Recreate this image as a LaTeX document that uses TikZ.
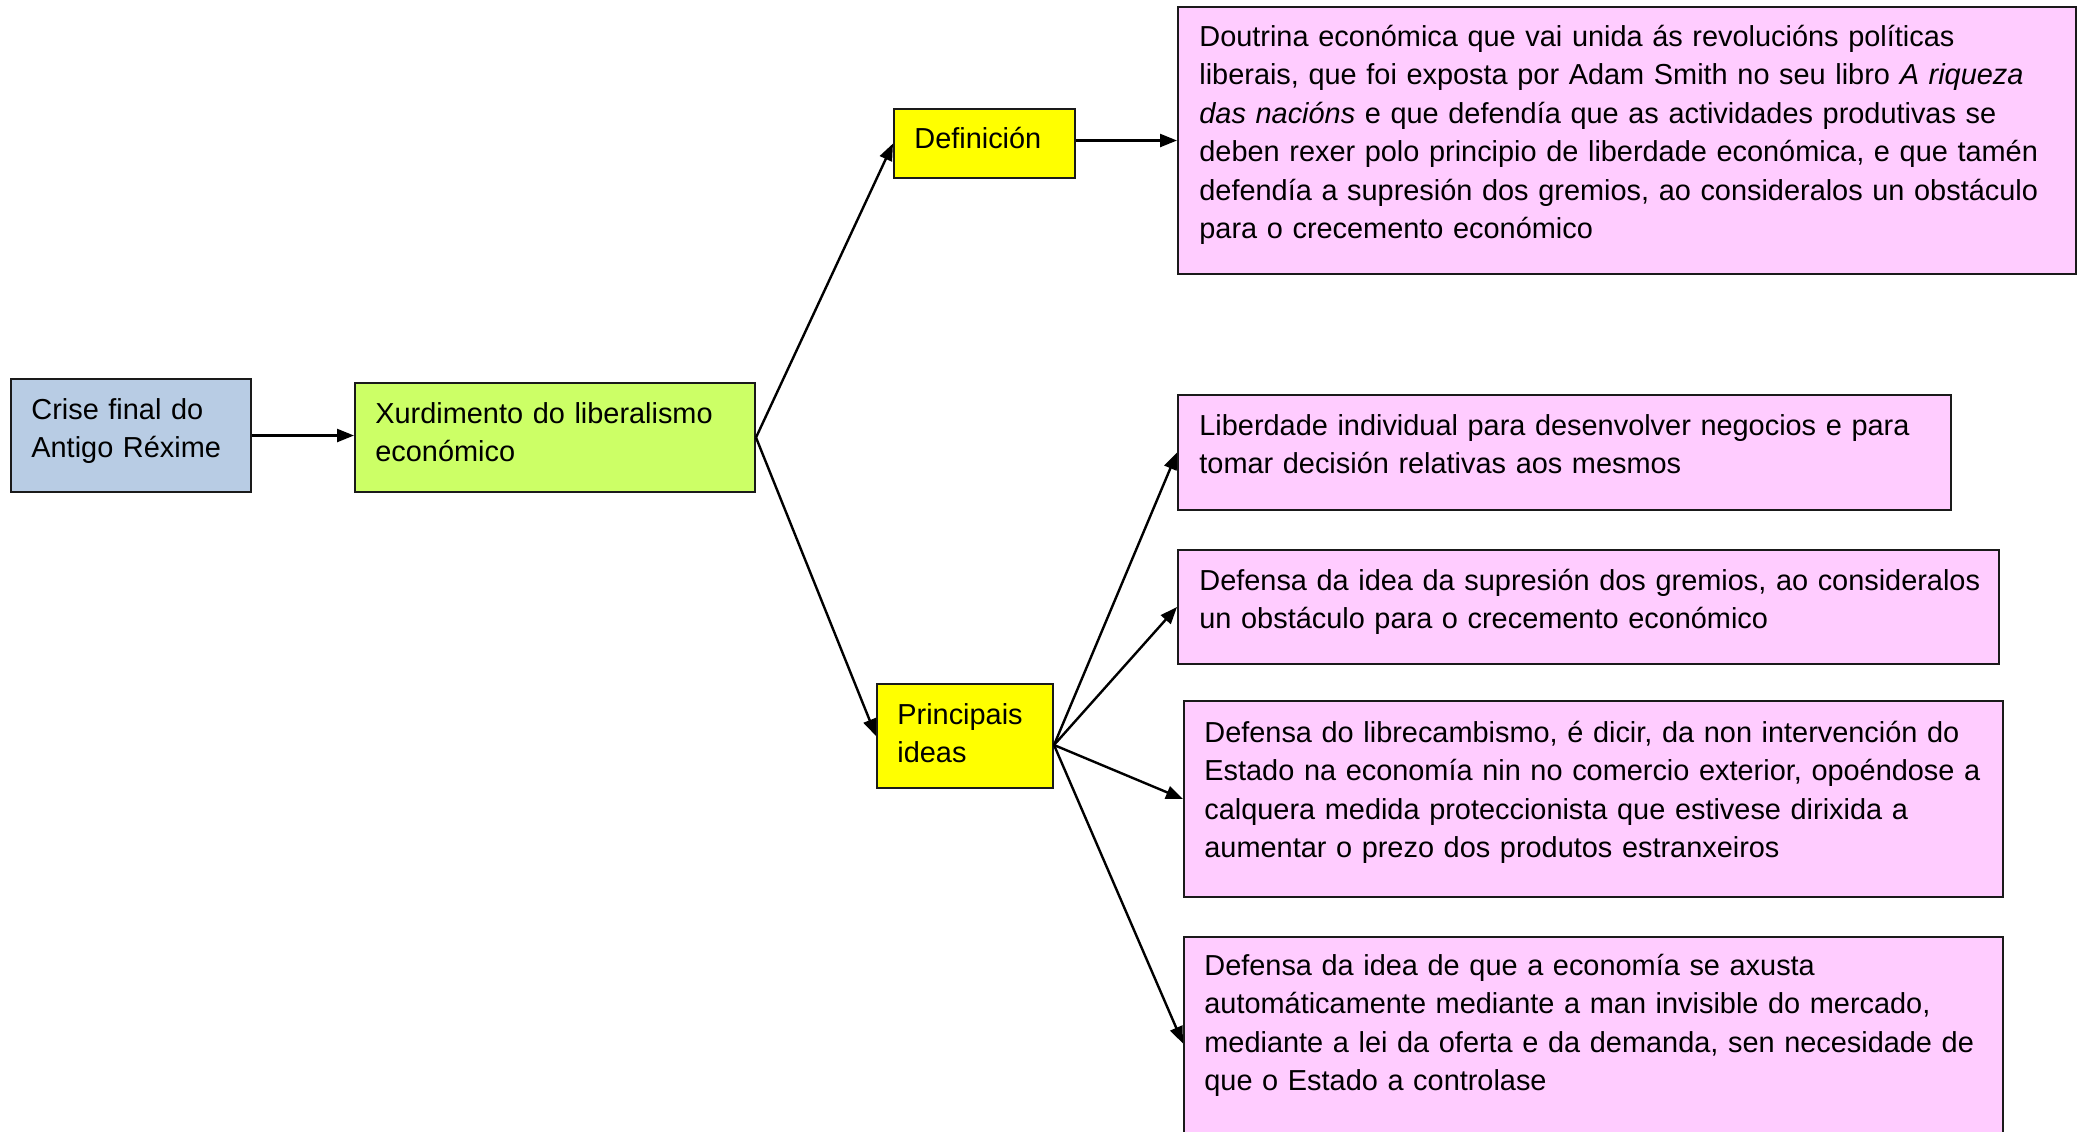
\documentclass[tikz,border=0pt]{standalone}
\usepackage{fontspec}
\setmainfont{Liberation Sans}
\usetikzlibrary{arrows.meta,fit}
\definecolor{cblue}{HTML}{B8CCE4}
\definecolor{cgreen}{HTML}{CCFF66}
\definecolor{cyellow}{HTML}{FFFF00}
\definecolor{cpink}{HTML}{FFCCFF}
\definecolor{cedge}{HTML}{1A1A1A}
\begin{document}
\begin{tikzpicture}[x=0.5pt,y=-0.5pt,
  box/.style={draw=cedge, line width=1pt, inner sep=0pt},
  txt/.style={anchor=base west, inner sep=0pt, text width=#1, align=left,
    font=\fontsize{14.45pt}{19.25pt}\selectfont},
  conn/.style={line width=1.2pt, -{Triangle[length=8.5pt,width=6.5pt]}}]
\useasboundingbox (0,0) rectangle (2083,1131);
% corner coordinates
\coordinate (c1) at (11,379);   \coordinate (c2) at (251,492);
\coordinate (x1) at (355,383);  \coordinate (x2) at (755,492);
\coordinate (d1) at (894,109);  \coordinate (d2) at (1075,178);
\coordinate (o1) at (1178,7);   \coordinate (o2) at (2076,274);
\coordinate (p1) at (877,684);  \coordinate (p2) at (1053,788);
\coordinate (l1) at (1178,395); \coordinate (l2) at (1951,510);
\coordinate (g1) at (1178,550); \coordinate (g2) at (1999,664);
\coordinate (r1) at (1184,701); \coordinate (r2) at (2003,897);
\coordinate (m1) at (1184,937); \coordinate (m2) at (2003,1150);
% boxes
\node[box, fill=cblue,   fit=(c1)(c2)] (crise) {};
\node[box, fill=cgreen,  fit=(x1)(x2)] (xurd) {};
\node[box, fill=cyellow, fit=(d1)(d2)] (defi) {};
\node[box, fill=cpink,   fit=(o1)(o2)] (dout) {};
\node[box, fill=cyellow, fit=(p1)(p2)] (princ) {};
\node[box, fill=cpink,   fit=(l1)(l2)] (liber) {};
\node[box, fill=cpink,   fit=(g1)(g2)] (grem) {};
\node[box, fill=cpink,   fit=(r1)(r2)] (libre) {};
\node[box, fill=cpink,   fit=(m1)(m2)] (man) {};
% texts
\node[txt=200pt] (crise-t) at ([xshift=10.5pt,yshift=-20.5pt]crise.north west)
  {Crise final do\\Antigo Réxime};
\node[txt=250pt] (xurd-t) at ([xshift=10.5pt,yshift=-20.5pt]xurd.north west)
  {Xurdimento do liberalismo\\económico};
\node[txt=100pt] (defi-t) at ([xshift=10.5pt,yshift=-20pt]defi.north west)
  {Definición};
\node[txt=440pt] (dout-t) at ([xshift=11pt,yshift=-20pt]dout.north west)
  {Doutrina económica que vai unida ás revolucións políticas\\
   liberais, que foi exposta por Adam Smith no seu libro \textit{A riqueza}\\
   \textit{das nacións} e que defendía que as actividades produtivas se\\
   deben rexer polo principio de liberdade económica, e que tamén\\
   defendía a supresión dos gremios, ao consideralos un obstáculo\\
   para o crecemento económico};
\node[txt=100pt] (princ-t) at ([xshift=10.5pt,yshift=-20.5pt]princ.north west)
  {Principais\\ideas};
\node[txt=440pt] (liber-t) at ([xshift=11pt,yshift=-20.5pt]liber.north west)
  {Liberdade individual para desenvolver negocios e para\\
   tomar decisión relativas aos mesmos};
\node[txt=440pt] (grem-t) at ([xshift=11pt,yshift=-20.5pt]grem.north west)
  {Defensa da idea da supresión dos gremios, ao consideralos\\
   un obstáculo para o crecemento económico};
\node[txt=440pt] (libre-t) at ([xshift=10.5pt,yshift=-21pt]libre.north west)
  {Defensa do librecambismo, é dicir, da non intervención do\\
   Estado na economía nin no comercio exterior, opoéndose a\\
   calquera medida proteccionista que estivese dirixida a\\
   aumentar o prezo dos produtos estranxeiros};
\node[txt=440pt] (man-t) at ([xshift=10.5pt,yshift=-19.5pt]man.north west)
  {Defensa da idea de que a economía se axusta\\
   automáticamente mediante a man invisible do mercado,\\
   mediante a lei da oferta e da demanda, sen necesidade de\\
   que o Estado a controlase};
% connectors
\draw[conn] (crise.east) -- (crise.east -| xurd.west);
\draw[conn] (xurd.east) -- (defi.west);
\draw[conn] (xurd.east) -- (princ.west);
\draw[conn] ([yshift=1.5pt]defi.east) -- ([yshift=1.5pt]defi.east -| dout.west);
\coordinate (pe) at ([yshift=-4.5pt]princ.east);
\draw[conn] (pe) -- (liber.west);
\draw[conn] (pe) -- (grem.west);
\draw[conn] (pe) -- (libre.west);
\draw[conn] (pe) -- (man.west);
\end{tikzpicture}
\end{document}
